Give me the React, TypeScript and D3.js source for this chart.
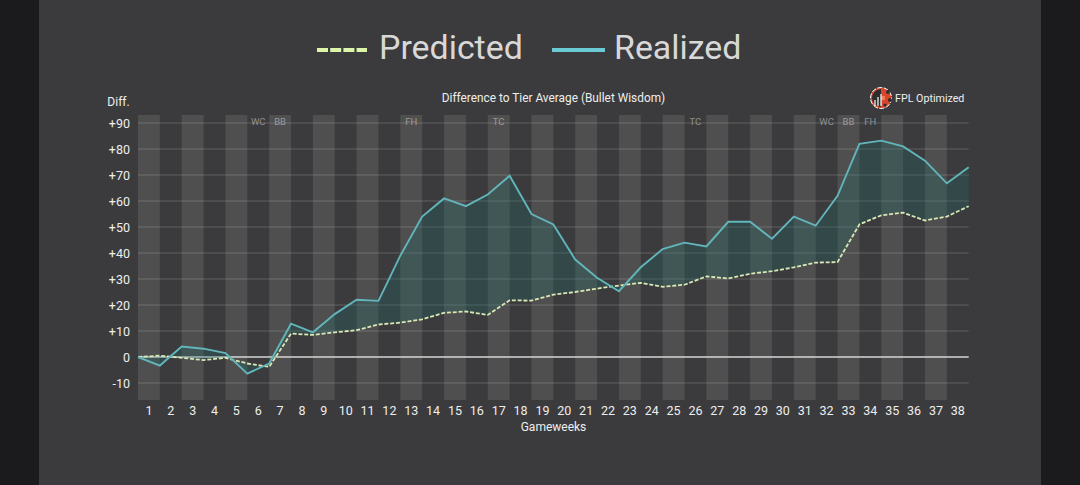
import React from "react";
import * as d3 from "d3";

const W = 1080;
const H = 485;
const gameweeks = d3.range(1, 39);
const yTicks = [-10, 0, 10, 20, 30, 40, 50, 60, 70, 80, 90];
const predicted = [0, 0.5, -0.3, -1.2, -0.3, -2.5, -3.8, 9, 8.5, 9.5, 10.3, 12.5, 13.2, 14.5, 17, 17.5, 16.2, 21.8, 21.7, 24, 25, 26.3, 27.5, 28.5, 27, 27.8, 31, 30.2, 32, 33, 34.5, 36.3, 36.5, 51, 54.5, 55.5, 52.5, 54, 58];
const realized = [0, -3.3, 4, 3.2, 1.5, -6.4, -2.5, 12.8, 9.5, 16.5, 22, 21.6, 39, 54, 61, 58, 62.5, 69.7, 55, 51, 37.5, 30.5, 25.3, 34.5, 41.5, 44, 42.5, 52, 52, 45.5, 54, 50.5, 62, 82, 83.2, 81, 75.5, 66.8, 73];
const chips: [number, string][] = [[6, "WC"], [7, "BB"], [13, "FH"], [17, "TC"], [26, "TC"], [32, "WC"], [33, "BB"], [34, "FH"]];

const x = d3.scaleLinear().domain([0, 38]).range([138, 968.7]);
const y = d3.scaleLinear().domain([0, 90]).range([357, 123]);
const FONT = "Roboto, sans-serif";

export default function App() {
  const idx = d3.range(predicted.length);
  const line = d3.line<number>().x((_, i) => x(i)).y((d) => y(d));
  const area = d3.area<number>().x((i) => x(i)).y0((i) => y(predicted[i])).y1((i) => y(realized[i]));
  const bandTop = 115;
  const bandBottom = 400;
  return (
    <svg width={W} height={H} viewBox={`0 0 ${W} ${H}`} style={{ position: "fixed", left: 0, top: 0, display: "block" }} fontFamily={FONT}>
      <rect width={W} height={H} fill="#1b1b1d" />
      <rect x={39} width={1002} height={H} fill="#3b3b3d" />
      {gameweeks.filter((g) => g % 2 === 1).map((g) => (
        <rect key={g} x={x(g - 1)} y={bandTop} width={x(g) - x(g - 1)} height={bandBottom - bandTop} fill="#ffffff" opacity={0.1} />
      ))}
      {yTicks.map((t) => (
        <g key={t}>
          <line x1={138} x2={968.7} y1={y(t)} y2={y(t)} stroke={t === 0 ? "#d6d6d6" : "#ffffff"} strokeOpacity={t === 0 ? 1 : 0.13} strokeWidth={1.5} />
          <text x={130} y={y(t) + 4.5} textAnchor="end" fontSize={12.5} fill="#eeeeee">
            {t > 0 ? `+${t}` : t}
          </text>
        </g>
      ))}
      <path d={area(idx) ?? ""} fill="#1c6a68" fillOpacity={0.28} />
      <path d={line(predicted) ?? ""} fill="none" stroke="#d9e8b4" strokeWidth={1.8} strokeDasharray="4 1.8" />
      <path d={line(realized) ?? ""} fill="none" stroke="#62b5ba" strokeWidth={1.9} />
      {chips.map(([g, c]) => (
        <text key={`${c}${g}`} x={x(g) - (x(1) - x(0)) / 2} y={125} textAnchor="middle" fontSize={9.5} fill="#ffffff" fillOpacity={0.42}>
          {c}
        </text>
      ))}
      {gameweeks.map((g) => (
        <text key={g} x={x(g) - (x(1) - x(0)) / 2} y={415} textAnchor="middle" fontSize={12.5} fill="#eeeeee">
          {g}
        </text>
      ))}
      <text x={553.5} y={431} textAnchor="middle" fontSize={12} fill="#eeeeee">Gameweeks</text>
      <text x={118.5} y={106} textAnchor="middle" fontSize={12} fill="#eeeeee">Diff.</text>
      <text x={553.5} y={102} textAnchor="middle" fontSize={11.85} fill="#eeeeee">Difference to Tier Average (Bullet Wisdom)</text>
      <g>
        <circle cx={881} cy={98} r={10.5} fill="#d9452b" stroke="#ffffff" strokeWidth={1} strokeDasharray="5 1.5" />
        <path d="M872 98a9 9 0 0 1 9-9v18a9 9 0 0 1-9-9z" fill="#2d2d30" />
        <circle cx={888} cy={92} r={2} fill="#2d2d30" />
        <circle cx={890} cy={100} r={2} fill="#2d2d30" />
        <circle cx={885} cy={105} r={1.6} fill="#2d2d30" />
        <circle cx={883} cy={98} r={2.2} fill="#f0805c" />
        <path d="M875 106v-6M878 106v-9M881 106v-12" stroke="#ffffff" strokeWidth={1.2} />
      </g>
      <text x={895} y={102} fontSize={10.7} fill="#eeeeee">FPL Optimized</text>
      <line x1={317} x2={367} y1={50} y2={50} stroke="#dcf5a8" strokeWidth={4} strokeDasharray="11 2.2" />
      <text x={379} y={59} fontSize={33.9} fill="#d8d8d8">Predicted</text>
      <line x1={552} x2={605} y1={50} y2={50} stroke="#6bcbd4" strokeWidth={4} />
      <text x={614} y={59} fontSize={33.9} fill="#d8d8d8">Realized</text>
    </svg>
  );
}
